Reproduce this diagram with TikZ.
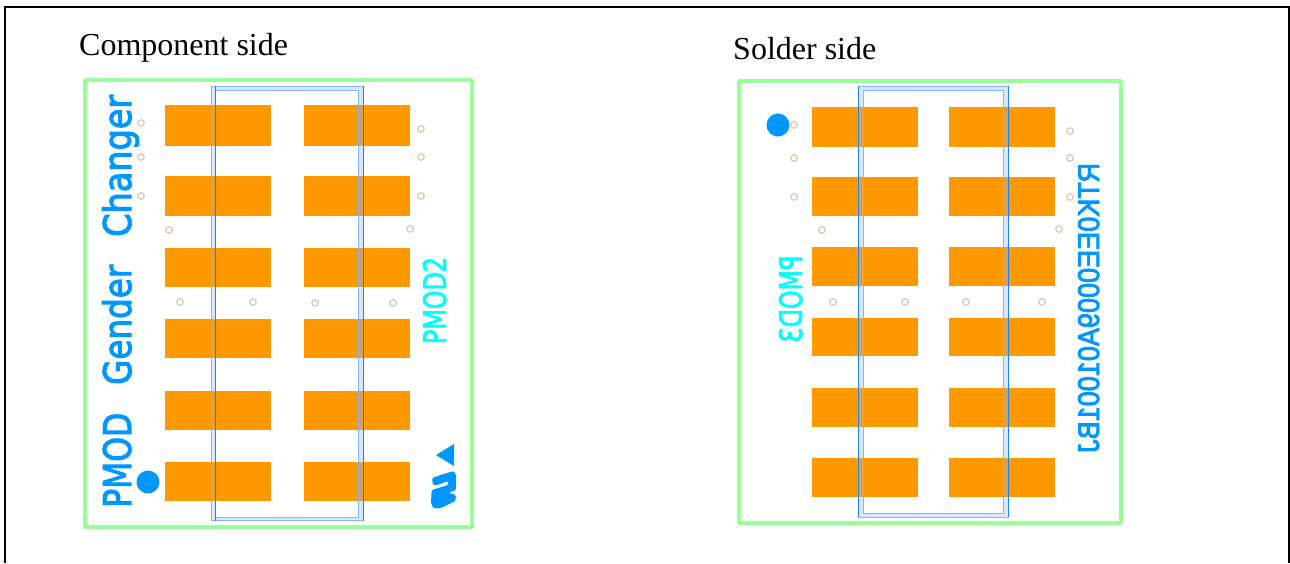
\documentclass[tikz,border=0pt]{standalone}
\usepackage{fontspec}
\usepackage{graphicx}
\setmainfont{Liberation Serif}
\newfontfamily\silk[FakeBold=3]{DejaVu Sans}
\newfontfamily\silkalt[FakeBold=3]{Liberation Sans}
\definecolor{pad}{RGB}{255,153,0}
\definecolor{edge}{RGB}{153,255,153}
\definecolor{silkblue}{RGB}{0,150,255}
\definecolor{silkcyan}{RGB}{0,255,255}
\definecolor{bodyblue}{RGB}{30,130,240}
\definecolor{bodylight}{RGB}{130,180,255}
\definecolor{hole}{RGB}{225,205,190}
\tikzset{
  padbox/.style={fill=pad,draw=none},
  outline/.style={draw=edge,line width=3.6pt,line join=round},
  drill/.style={circle,draw=hole,line width=1.5pt,minimum size=6.5pt,inner sep=0pt},
  dot/.style={circle,fill=silkblue,minimum size=23pt,inner sep=0pt},
  caption/.style={anchor=base west,inner sep=0pt,font=\fontsize{32}{36}\selectfont},
  silkbig/.style={inner sep=0pt,anchor=base west,rotate=90,text=silkblue,font=\silk\fontsize{38}{42}\selectfont},
  silkmid/.style={inner sep=0pt,anchor=base,rotate=90,font=\silk\fontsize{31}{34}\selectfont},
  silkpart/.style={inner sep=0pt,anchor=base,rotate=90,font=\silkalt\fontsize{30}{34}\selectfont},
  bodyband/.style={fill=bodylight,fill opacity=.3,even odd rule,draw=bodylight,line width=.7pt}
}
\newcommand{\padrow}[3]{\path[padbox] (#1,#2) rectangle (#1+106,#3);}
\begin{document}
\begin{tikzpicture}[x=1pt,y=-1pt]
\useasboundingbox (0,0) rectangle (1290,563);
\draw[black,line width=2pt] (4.5,563) -- (4.5,6.5) -- (1288.5,6.5) -- (1288.5,563);
\node[caption] (capL) at (79,55) {Component side};
\node[caption] (capR) at (733,59) {Solder side};
% left board
\draw[outline] (85,80) rectangle (472,527);
\foreach \a/\b in {105/146,176/216,248/287,319/358,391/430,462/501}{
  \padrow{165}{\a}{\b}\padrow{304}{\a}{\b}}
\path[bodyband] (211.5,86) rectangle (363,520.5) (215,90) rectangle (358.5,517);
\draw[bodyblue,line width=.9pt] (215,86) -- (215,520.5);
\draw[bodyblue,line width=.9pt] (363,86) -- (363,520.5);
\foreach \p [count=\i] in {(141,123),(141,157),(141,196),(169,230),(180,302),(253,302),(315,303),(393,303),(410,229),(421,129),(421,157),(421,196)}
  \node[drill] (hl\i) at \p {};
\node[dot] (dotL) at (148,482) {};
\node[silkbig] (w1) at (131,508) {\resizebox{95pt}{\height}{PMOD}};
\node[silkbig] (w2) at (131,385) {\resizebox{120pt}{\height}{Gender}};
\node[silkbig] (w3) at (131,237) {\resizebox{142pt}{\height}{Changer}};
\node[silkmid,text=silkcyan] (pm2) at (446,300.5) {\resizebox{87pt}{\height}{PMOD2}};
\path[fill=silkblue] (436,455) -- (454,444) -- (454,466) -- cycle;
\begin{scope}[shift={(420,435)},x=.3333pt,y=-.3333pt]
\path[fill=silkblue,rounded corners=1.5pt] (37,128) -- (100,108) -- (108,118) -- (108,165) -- (85,173) -- (108,180) -- (106,198) -- (60,220) -- (40,220) -- (33,205) -- (35,165) -- (85,150) -- (85,138) -- (45,152) -- (37,145) -- cycle;
\end{scope}
% right board
\draw[outline] (739,81) rectangle (1121,523);
\foreach \a/\b in {107/147,177/216,247/286,318/356,388/427,458/497}{
  \padrow{812}{\a}{\b}\padrow{949}{\a}{\b}}
\path[bodyband] (858,86) rectangle (1008,517) (863,90) rectangle (1003,513);
\draw[bodyblue,line width=.9pt] (858,86) -- (858,517);
\draw[bodyblue,line width=.9pt] (1008,86) -- (1008,517);
\foreach \p [count=\i] in {(794,125),(794,158),(794,197),(822,230),(833,302),(905,302),(966,302),(1042,302),(1059,229),(1070,131),(1070,158),(1070,197)}
  \node[drill] (hr\i) at \p {};
\node[dot] (dotR) at (778,125) {};
\node[silkmid,text=silkcyan] (pm3) at (802,299) {\resizebox{87pt}{\height}{\reflectbox{PMOD3}}};
\node[silkpart,text=silkblue] (partno) at (1099,308) {\resizebox{290pt}{\height}{\reflectbox{RTK0EE0009A01001BJ}}};
\end{tikzpicture}
\end{document}
